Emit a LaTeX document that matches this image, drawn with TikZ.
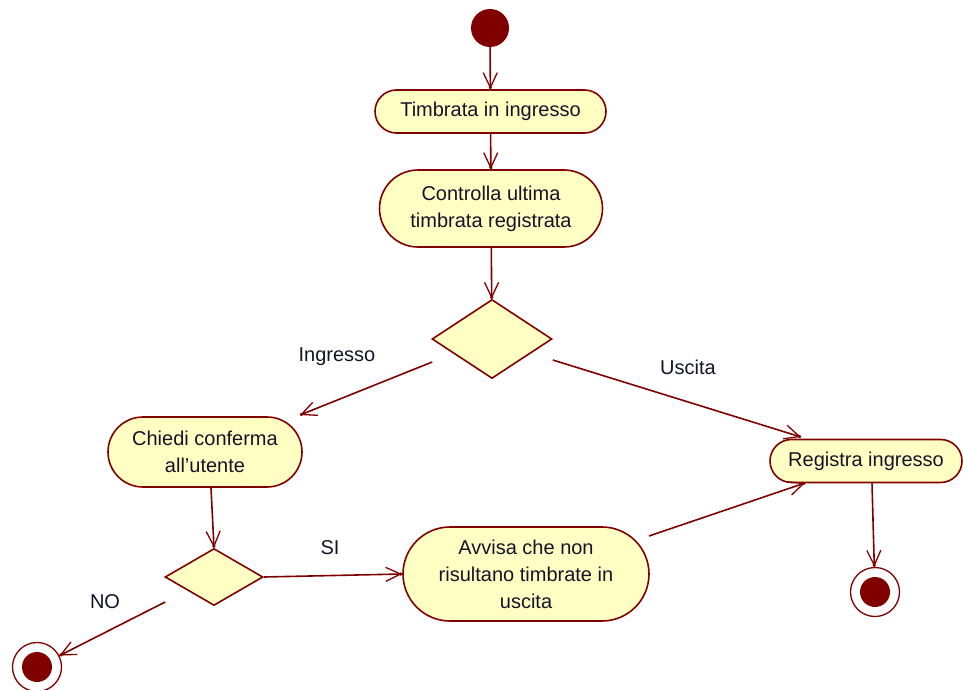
\documentclass[tikz,border=0pt]{standalone}
\usepackage{fontspec}
\setmainfont{Liberation Sans}
\usetikzlibrary{shapes.misc,shapes.geometric,arrows.meta,calc}
\definecolor{umlred}{HTML}{800000}
\definecolor{umlfill}{HTML}{FFFFC4}
\definecolor{umltext}{HTML}{141428}
\begin{document}
\begin{tikzpicture}[x=1pt,y=-1pt,
  font=\fontsize{20}{27}\selectfont,
  activity/.style={rounded rectangle, draw=umlred, fill=umlfill, line width=1.6pt,
    inner sep=0pt, align=center, text=umltext},
  choice/.style={diamond, draw=umlred, fill=umlfill, line width=1.6pt, inner sep=0pt},
  startdot/.style={circle, fill=umlred, minimum size=38pt, inner sep=0pt},
  enddot/.style={circle, draw=umlred, fill=white, line width=1.3pt, minimum size=49pt, inner sep=0pt,
    path picture={\fill[umlred] (path picture bounding box.center) circle (15pt);}},
  flow/.style={draw=umlred, line width=1.6pt,
    -{Straight Barb[length=15pt,width=14pt,line width=1.3pt,sep=-3pt]Circle[length=3pt]}},
  guard/.style={text=umltext}]
\useasboundingbox (0,0) rectangle (963,690);

% nodes
\node[startdot] (start) at (490,28) {};
\node[activity, minimum width=231pt, minimum height=43pt] (timbra) at (490.5,111.5) {Timbrata in ingresso};
\node[activity, minimum width=223pt, minimum height=77pt] (controlla) at (491,208.5) {Controlla ultima\\timbrata registrata};
\node[choice, minimum width=120pt, minimum height=79pt] (d1) at (492,339) {};
\node[activity, minimum width=194pt, minimum height=70pt] (chiedi) at (205,452) {Chiedi conferma\\all'utente};
\node[choice, minimum width=98pt, minimum height=57pt] (d2) at (214,577) {};
\node[activity, minimum width=246pt, minimum height=94pt] (avvisa) at (526,574) {Avvisa che non\\risultano timbrate in\\uscita};
\node[activity, minimum width=192pt, minimum height=43pt] (registra) at (866,461) {Registra ingresso};
\node[enddot] (endno) at (37,667) {};
\node[enddot] (endok) at (875,592) {};

% guard labels
\node[guard] (lin) at (337,357) {Ingresso};
\node[guard] (lout) at (688,367) {Uscita};
\node[guard] (lsi) at (330,548) {SI};
\node[guard] (lno) at (105,602) {NO};

% transitions
\draw[flow] (start) -- (timbra);
\draw[flow] (timbra) -- (controlla);
\draw[flow] (controlla) -- (d1);
\draw[flow] ($(d1.west)+(1,23)$) -- ($(chiedi.center)+(95,-37)$);
\draw[flow] ($(d1.east)+(0,21)$) -- ($(registra.center)+(-65,-24)$);
\draw[flow] ($(chiedi.south)+(6,0)$) -- (d2.north);
\draw[flow] (d2.east) -- (avvisa.west);
\draw[flow] ($(d2.west)+(1,25)$) -- (endno);
\draw[flow] ($(avvisa.center)+(123,-38)$) -- ($(registra.center)+(-61,22)$);
\draw[flow] ($(registra.south)+(6,0)$) -- (endok);
\end{tikzpicture}
\end{document}
